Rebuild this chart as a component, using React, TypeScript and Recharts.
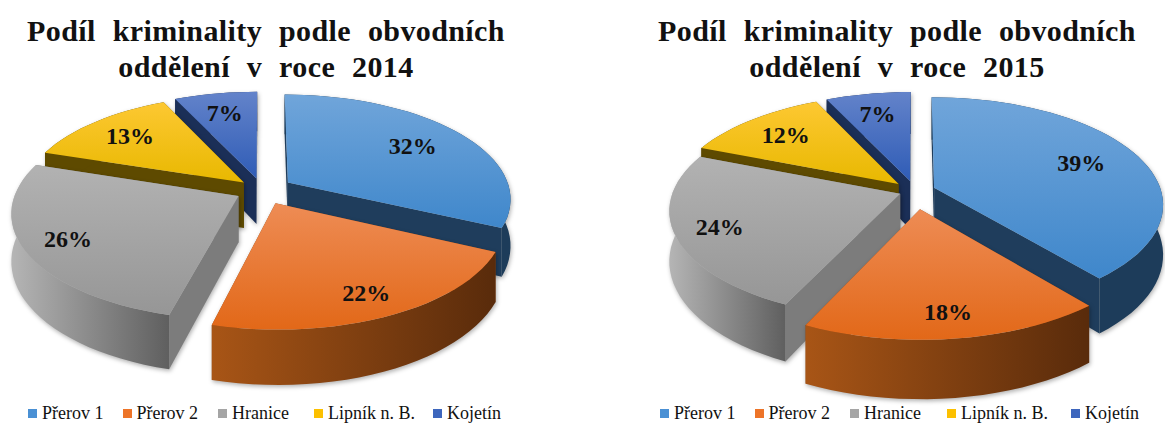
import React from 'react';
import { PieChart, Pie, Legend } from 'recharts';

const categories = ['Přerov 1', 'Přerov 2', 'Hranice', 'Lipník n. B.', 'Kojetín'];
const values2014 = [32, 22, 26, 13, 7];
const values2015 = [39, 18, 24, 12, 7];
const swatches = ['#4a90d4', '#ed7428', '#a5a5a5', '#fcc000', '#3d66bd'];
const topIds = ['topBlue', 'topOrange', 'topGrey', 'topYellow', 'topNavy'];
const wallFills = ['#1d3c5a', 'url(#wallOrange)', 'url(#wallGrey)', '#5e4a00', '#1b2f57'];
const cutFills = ['#1f3d5c', '#8a4514', '#7c7c7c', '#5e4a00', '#1b2f57'];
const labelReach = [0.72, 0.82, 0.81, 0.75, 0.75];

// painter's order: back slices first, the front ones cover their neighbours' walls
const drawOrder = [0, 4, 3, 2, 1];

const font = '"Liberation Serif", serif';

type View = { rx: number; ry: number; p: number; depth: number; explode: number[] };

const view2014: View = { rx: 222, ry: 103, p: 0.15, depth: 46, explode: [0.14, 0.14, 0.12, 0.11, 0.115] };
const view2015: View = { rx: 227, ry: 105, p: 0.15, depth: 49, explode: [0.09, 0.17, 0.07, 0.1, 0.1] };

const rad = (d: number) => (d * Math.PI) / 180;

function projector(cx: number, cy: number, view: View, mid: number, e: number) {
  const u0 = e * Math.cos(rad(mid));
  const v0 = -e * Math.sin(rad(mid));
  return (r: number, angle: number, d = 0) => {
    const u = u0 + r * Math.cos(rad(angle));
    const v = v0 - r * Math.sin(rad(angle));
    const w = 1 - view.p * v;
    return [cx + (view.rx * u) / w, cy + (view.ry * v + d) / w];
  };
}

const toPath = (pts: number[][]) =>
  'M' + pts.map((p) => p[0].toFixed(1) + ',' + p[1].toFixed(1)).join('L') + 'Z';

function makeShape(view: View) {
  return function Slice3D(props: any) {
    const { cx, cy, startAngle, endAngle, payload } = props;
    const idx = categories.indexOf(payload.name);
    const mid = (startAngle + endAngle) / 2;
    const pr = projector(cx, cy, view, mid, view.explode[idx]);
    const arc: number[] = [];
    const n = Math.max(4, Math.ceil(Math.abs(endAngle - startAngle) / 3));
    for (let i = 0; i <= n; i++) arc.push(startAngle + ((endAngle - startAngle) * i) / n);
    const top = [pr(0, 0), ...arc.map((a) => pr(1, a))];
    const wall = [...arc.map((a) => pr(1, a)), ...arc.slice().reverse().map((a) => pr(1, a, view.depth))];
    const cut = (a: number) => [pr(0, 0), pr(1, a), pr(1, a, view.depth), pr(0, 0, view.depth)];
    return (
      <g style={{ filter: 'drop-shadow(1px 2px 2px rgba(0,0,0,0.3))' }}>
        <path d={toPath(cut(startAngle))} fill={cutFills[idx]} />
        <path d={toPath(cut(endAngle))} fill={cutFills[idx]} />
        <path d={toPath(wall)} fill={wallFills[idx]} />
        <path d={toPath(top)} fill={`url(#${topIds[idx]})`} />
      </g>
    );
  };
}

function makeLabel(view: View) {
  return function SliceLabel(props: any) {
    const { cx, cy, midAngle, value, payload } = props;
    const idx = categories.indexOf(payload.name);
    const [x, y] = projector(cx, cy, view, midAngle, view.explode[idx])(labelReach[idx], midAngle);
    return (
      <text x={x} y={y} textAnchor="middle" dominantBaseline="central" fontFamily={font} fontWeight="bold" fontSize={24} fill="#111">
        {value}%
      </text>
    );
  };
}

function Gradients() {
  const stops: [string, string, string][] = [
    ['topBlue', '#70a5da', '#3f87cb'],
    ['topOrange', '#ee8c55', '#e26818'],
    ['topGrey', '#b2b2b2', '#969696'],
    ['topYellow', '#fdc832', '#e8b800'],
    ['topNavy', '#6383ca', '#2f5cb6'],
  ];
  return (
    <defs>
      {stops.map(([id, a, b]) => (
        <linearGradient key={id} id={id} x1="0" y1="0" x2="0" y2="1">
          <stop offset="0" stopColor={a} />
          <stop offset="1" stopColor={b} />
        </linearGradient>
      ))}
      <linearGradient id="wallOrange" x1="0" y1="0" x2="1" y2="0">
        <stop offset="0" stopColor="#a85516" />
        <stop offset="1" stopColor="#592b0b" />
      </linearGradient>
      <linearGradient id="wallGrey" x1="0" y1="0" x2="1" y2="0">
        <stop offset="0" stopColor="#b5b5b5" />
        <stop offset="1" stopColor="#5f5f5f" />
      </linearGradient>
    </defs>
  );
}

function LegendRow({ left, gaps }: { left: number; gaps: number[] }) {
  return (
    <div style={{ display: 'flex', marginLeft: left, fontFamily: font, fontSize: 18, color: '#111', whiteSpace: 'nowrap' }}>
      {categories.map((c, i) => (
        <span key={c} style={{ display: 'inline-flex', alignItems: 'center', marginRight: gaps[i] }}>
          <span style={{ width: 9, height: 9, background: swatches[i], marginRight: 5 }} />
          {c}
        </span>
      ))}
    </div>
  );
}

type ChartProps = {
  values: number[];
  view: View;
  year: string;
  cx: number;
  cy: number;
  titleX: number;
  legendLeft: number;
  gaps: number[];
  left: number;
  width: number;
};

function Chart3D({ values, view, year, cx, cy, titleX, legendLeft, gaps, left, width }: ChartProps) {
  const table = drawOrder.map((i) => ({ name: categories[i], value: values[i] }));
  const total = values.reduce((a, b) => a + b, 0);
  const start = 90 - (values[0] / total) * 360;
  const titleStyle = { fontFamily: font, fontWeight: 'bold', fontSize: 30, wordSpacing: 9, letterSpacing: 0.4, fill: '#111' } as const;
  return (
    <div style={{ position: 'absolute', left, top: 0 }}>
      <PieChart width={width} height={423} margin={{ top: 0, right: 0, bottom: 0, left: 0 }}>
        <Gradients />
        <text x={titleX} y={41} textAnchor="middle" style={titleStyle}>
          Podíl kriminality podle obvodních
        </text>
        <text x={titleX} y={77} textAnchor="middle" style={titleStyle}>
          {`oddělení v roce ${year}`}
        </text>
        <Pie
          data={table}
          dataKey="value"
          nameKey="name"
          cx={cx}
          cy={cy}
          outerRadius={150}
          startAngle={start}
          endAngle={start + 360}
          stroke="none"
          labelLine={false}
          label={makeLabel(view)}
          shape={makeShape(view)}
          isAnimationActive={false}
        />
        <Legend
          content={() => <LegendRow left={legendLeft} gaps={gaps} />}
          wrapperStyle={{ position: 'absolute', left: 0, top: 403, width }}
        />
      </PieChart>
    </div>
  );
}

export default function App() {
  return (
    <div style={{ position: 'absolute', left: 0, top: 0, width: 1165, height: 423, overflow: 'hidden', background: '#fff' }}>
      <Chart3D values={values2014} view={view2014} year="2014" cx={262} cy={190} titleX={266} legendLeft={28} gaps={[19, 20, 25, 18, 0]} left={0} width={532} />
      <Chart3D values={values2015} view={view2015} year="2015" cx={283} cy={191} titleX={265} legendLeft={28} gaps={[19, 20, 26, 23, 0]} left={632} width={533} />
    </div>
  );
}
